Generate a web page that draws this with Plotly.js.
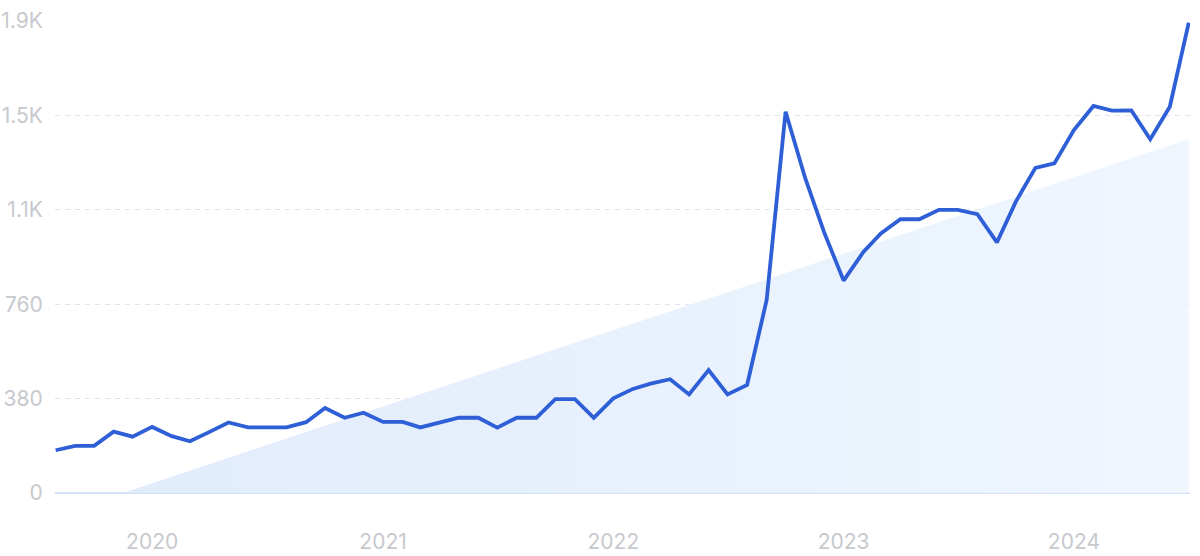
<!DOCTYPE html>
<html>
<head>
<meta charset="utf-8">
<script src="https://cdn.plot.ly/plotly-3.0.1.min.js"></script>
<style>html,body{margin:0;padding:0;background:#fff;}#chart{width:1200px;height:556px;}</style>
</head>
<body>
<div id="chart"></div>
<script>
const months = [
  "2019-08-01","2019-09-01","2019-10-01","2019-11-01","2019-12-01",
  "2020-01-01","2020-02-01","2020-03-01","2020-04-01","2020-05-01","2020-06-01","2020-07-01","2020-08-01","2020-09-01","2020-10-01","2020-11-01","2020-12-01",
  "2021-01-01","2021-02-01","2021-03-01","2021-04-01","2021-05-01","2021-06-01","2021-07-01","2021-08-01","2021-09-01","2021-10-01","2021-11-01","2021-12-01",
  "2022-01-01","2022-02-01","2022-03-01","2022-04-01","2022-05-01","2022-06-01","2022-07-01","2022-08-01","2022-09-01","2022-10-01","2022-11-01","2022-12-01",
  "2023-01-01","2023-02-01","2023-03-01","2023-04-01","2023-05-01","2023-06-01","2023-07-01","2023-08-01","2023-09-01","2023-10-01","2023-11-01","2023-12-01",
  "2024-01-01","2024-02-01","2024-03-01","2024-04-01","2024-05-01","2024-06-01","2024-07-01"
];
const searches = [
  172,190,190,247,227,
  266,229,208,246,284,264,264,264,285,342,303,323,
  286,286,264,283,303,303,263,303,303,378,378,303,
  381,419,440,458,397,495,397,435,777,1535,1268,1050,
  855,969,1045,1102,1102,1140,1140,1122,1009,1173,1309,1327,
  1461,1558,1539,1540,1424,1555,1893
];
const trendX = ["2019-11-15","2024-07-01"];
const trendY = [0,1424];
const yTickVals = [0,380,760,1140,1520,1900];
const yTickText = ["0","380","760","1.1K","1.5K","1.9K"];
const xTickVals = ["2020-01-01","2021-01-01","2022-01-01","2023-01-01","2024-01-01"];
const xTickText = ["2020","2021","2022","2023","2024"];

const tickFont = {family: "Inter, Roboto, sans-serif", size: 21, color: "#c6c9ce"};

const traces = [
  {
    x: trendX, y: trendY, type: "scatter", mode: "lines",
    fill: "tozeroy",
    fillcolor: "#e6f0fc",
    fillgradient: {type: "horizontal", colorscale: [[0, "#e1ecfb"], [1, "#eff6fe"]]},
    line: {width: 0, color: "rgba(0,0,0,0)"},
    hoverinfo: "skip", showlegend: false
  },
  {
    x: months, y: searches, type: "scatter", mode: "lines",
    line: {color: "#2e5fd7", width: 3.8, shape: "linear"},
    showlegend: false
  }
];

const layout = {
  width: 1200, height: 556,
  margin: {l: 55, r: 10, t: 21, b: 63},
  paper_bgcolor: "#ffffff", plot_bgcolor: "#ffffff",
  showlegend: false,
  xaxis: {
    type: "date",
    range: ["2019-07-31", "2024-07-03"],
    tickvals: xTickVals, ticktext: xTickText,
    showgrid: false, zeroline: false, showline: false,
    ticks: "outside", ticklen: 30, tickcolor: "rgba(0,0,0,0)",
    tickfont: tickFont
  },
  yaxis: {
    range: [0, 1900],
    tickvals: yTickVals, ticktext: yTickText,
    showgrid: true, gridcolor: "#dce4ef", gridwidth: 1, griddash: "5px,5px",
    zeroline: true, zerolinecolor: "#d4e2f5", zerolinewidth: 1.5,
    showline: false, ticks: "outside", ticklen: 7, tickcolor: "rgba(0,0,0,0)",
    tickfont: tickFont
  }
};

Plotly.newPlot("chart", traces, layout, {displayModeBar: false, staticPlot: true});
</script>
</body>
</html>
